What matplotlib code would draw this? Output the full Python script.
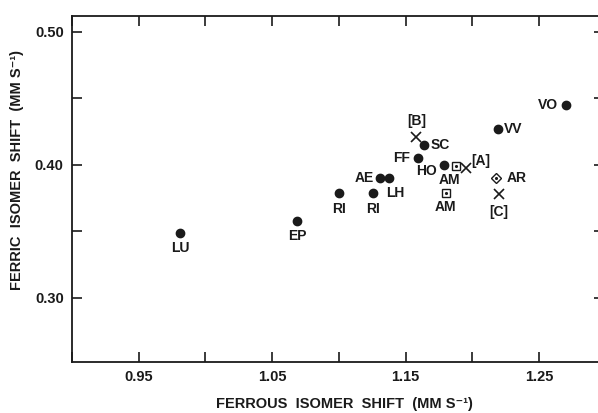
import matplotlib
matplotlib.use("Agg")
import matplotlib.pyplot as plt

plt.rcParams['font.family'] = ['Liberation Sans', 'DejaVu Sans']
plt.rcParams['font.weight'] = 'bold'

# Filled circles: natural samples
circ_labels = ["LU", "EP", "RI", "RI", "AE", "LH", "FF", "SC", "HO", "VV", "VO"]
circ_x = [0.981, 1.069, 1.100, 1.126, 1.131, 1.138, 1.159, 1.164, 1.179, 1.219, 1.270]
circ_y = [0.349, 0.358, 0.379, 0.379, 0.390, 0.390, 0.405, 0.415, 0.400, 0.427, 0.445]

# Boxed dots (AM)
box_labels = ["AM", "AM"]
box_x = [1.188, 1.180]
box_y = [0.399, 0.379]

# Crosses ([A], [B], [C])
cross_labels = ["[A]", "[B]", "[C]"]
cross_x = [1.195, 1.158, 1.220]
cross_y = [0.398, 0.421, 0.378]

# Diamond with dot (AR)
dia_labels = ["AR"]
dia_x = [1.218]
dia_y = [0.390]

x_ticks = [0.90, 0.95, 1.00, 1.05, 1.10, 1.15, 1.20, 1.25]
x_ticklabels = ["", "0.95", "", "1.05", "", "1.15", "", "1.25"]
y_ticks = [0.30, 0.35, 0.40, 0.45, 0.50]
y_ticklabels = ["0.30", "", "0.40", "", "0.50"]

fig = plt.figure(figsize=(5.98, 4.13), dpi=100)
ax = fig.add_axes([72/598, 51/413, 532/598, 346/413])
ax.set_xlim(0.90, 1.2988)
ax.set_ylim(0.2517, 0.512)

ink = "#1a1a1a"
ax.plot(circ_x, circ_y, 'o', ms=6, color=ink, mec=ink, zorder=3)
ax.plot(box_x, box_y, 's', ms=6, mfc='white', mec=ink, mew=1.0, zorder=3)
ax.plot(box_x, box_y, '.', ms=2.5, color=ink, zorder=4)
ax.plot(cross_x, cross_y, 'x', ms=6.5, color=ink, mew=1.2, zorder=3)
ax.plot(dia_x, dia_y, 'D', ms=5.5, mfc='white', mec=ink, mew=1.0, zorder=3)
ax.plot(dia_x, dia_y, '.', ms=2.5, color=ink, zorder=4)

# label offsets (points) and alignment
k = 0.72
circ_off = [((0, -15), 'center'), ((0, -15), 'center'), ((0, -16), 'center'),
            ((0, -16), 'center'), ((-6, 0), 'right'), ((-3, -15), 'left'),
            ((-7, 0), 'right'), ((6, 0), 'left'), ((-7, -6), 'right'),
            ((6, 0), 'left'), ((-8, 0), 'right')]
box_off = [((-7, -14), 'center'), ((0, -14), 'center')]
cross_off = [((6, 7), 'left'), ((1, 16), 'center'), ((0, -18), 'center')]
dia_off = [((10, 0), 'left')]

def put(labels, xs, ys, offs):
    for lab, x, y, ((dx, dy), ha) in zip(labels, xs, ys, offs):
        ax.annotate(lab, (x, y), xytext=(dx*k, dy*k), textcoords='offset points',
                    ha=ha, va='center', fontsize=10, fontweight='bold', color=ink)

put(circ_labels, circ_x, circ_y, circ_off)
put(box_labels, box_x, box_y, box_off)
put(cross_labels, cross_x, cross_y, cross_off)
put(dia_labels, dia_x, dia_y, dia_off)

ax.set_xticks(x_ticks)
ax.set_xticklabels(x_ticklabels)
ax.set_yticks(y_ticks)
ax.set_yticklabels(y_ticklabels)
ax.tick_params(direction='in', length=7, width=1.2, top=True, right=True,
               labelsize=10.5, colors=ink, pad=6)
for lab in ax.get_xticklabels() + ax.get_yticklabels():
    lab.set_fontweight('bold')
for s in ax.spines.values():
    s.set_linewidth(1.3)
    s.set_color(ink)

ax.set_xlabel("FERROUS  ISOMER  SHIFT  (MM S⁻¹)", fontsize=10.5, fontweight='bold',
              color=ink, va='center')
ax.set_ylabel("FERRIC  ISOMER  SHIFT  (MM S⁻¹)", fontsize=10.5, fontweight='bold',
              color=ink, va='center')
ax.xaxis.set_label_coords(0.513, -0.121)
ax.yaxis.set_label_coords(-0.103, 0.555)

fig.savefig("out.png", dpi=100)
